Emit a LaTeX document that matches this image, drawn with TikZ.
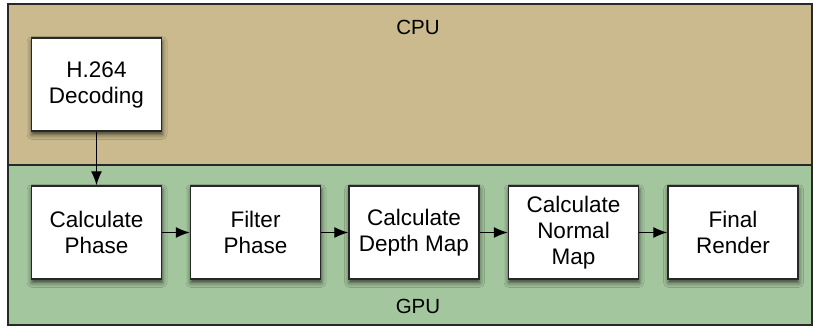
\documentclass[tikz,border=0pt]{standalone}
\usepackage{fontspec}
\setmainfont{Liberation Sans}
\usetikzlibrary{shadows.blur,arrows.meta}
\definecolor{cpucol}{RGB}{202,186,141}
\definecolor{gpucol}{RGB}{164,198,158}
\definecolor{edgecol}{RGB}{40,40,40}
\tikzset{
  stagebox/.style={draw=edgecol, line width=1.4pt, fill=white, minimum width=130pt, minimum height=93pt,
    align=center, inner sep=0pt, font=\fontsize{22.5}{26}\selectfont,
    blur shadow={shadow xshift=0.5pt, shadow yshift=-3.5pt, shadow blur radius=5pt, shadow opacity=70}},
  flow/.style={-{Latex[length=14pt,width=11pt]}, line width=1.2pt, draw=black},
  region/.style={draw=edgecol, line width=1.4pt},
  regionlabel/.style={font=\fontsize{20.5}{24}\selectfont, text=black}
}
\begin{document}
\begin{tikzpicture}[x=1pt,y=-1pt]
\useasboundingbox (0,0) rectangle (813,328);
\fill[white] (0,0) rectangle (813,328);
\fill[cpucol] (8,4) rectangle (812,165);
\fill[gpucol] (8,165) rectangle (812,325);
\draw[region] (8,4) rectangle (812,325);
\draw[region] (8,165) -- (812,165);
\node[regionlabel] (cpu) at (418,27) {CPU};
\node[regionlabel] (gpu) at (418,306) {GPU};
\node[stagebox] (dec) at (96.5,84.5) {H.264\\Decoding};
\node[stagebox] (phase) at (96.5,232.5) {Calculate\\Phase};
\node[stagebox] (filter) at (255.5,232.5) {Filter\\Phase};
\node[stagebox] (depth) at (414,232.5) {Calculate\\Depth Map};
\node[stagebox] (normal) at (573.5,232.5) {Calculate\\Normal\\Map};
\node[stagebox] (final) at (733,232.5) {Final\\Render};
\draw[flow] (dec) -- (phase);
\draw[flow] (phase) -- (filter);
\draw[flow] (filter) -- (depth);
\draw[flow] (depth) -- (normal);
\draw[flow] (normal) -- (final);
\end{tikzpicture}
\end{document}
